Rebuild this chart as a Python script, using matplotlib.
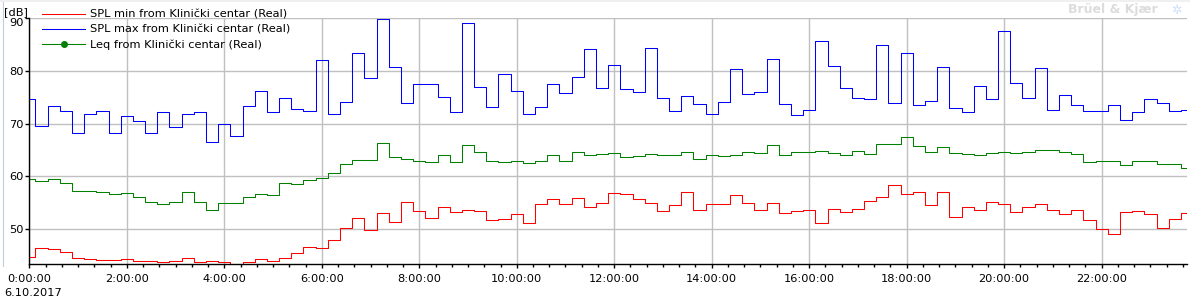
import numpy as np
import matplotlib.pyplot as plt
from matplotlib.lines import Line2D
from matplotlib.patches import Rectangle

# 15 min values, 6.10.2017, Klinički centar
spl_max = [74.6, 69.5, 73.3, 72.5, 68.2, 71.8, 72.4, 68.2, 71.4, 70.6, 68.2, 72.2, 69.4, 71.8, 72.3,
           66.6, 69.9, 67.6, 73.3, 76.3, 72.3, 74.8, 72.8, 72.5, 82.0, 71.8, 74.05, 83.5, 78.6, 89.8, 80.7,
           73.9, 77.5, 77.5, 75.0, 72.2, 89.2, 76.9, 73.1, 79.4, 76.2, 71.9, 73.1, 77.5, 75.8, 78.8, 84.1,
           76.7, 81.1, 76.5, 75.95, 84.3, 74.8, 72.5, 75.2, 73.7, 71.8, 74.05, 80.3, 75.6, 76.1, 82.2, 73.7, 71.6,
           72.7, 85.6, 80.9, 76.7, 74.8, 74.6, 84.9, 73.9, 83.4, 73.5, 74.4, 80.7, 72.9, 72.2, 77.1, 74.6, 87.6,
           77.7, 74.8, 80.5, 72.7, 75.4, 73.5, 72.5, 72.5, 73.5, 70.8, 72.3, 74.6, 73.9, 72.5, 72.7]

leq = [59.6, 59.05, 59.5, 58.7, 57.3, 57.3, 57.15, 56.6, 56.8, 56.2, 55.25, 54.75, 55.25, 57.0, 55.1,
       53.7, 54.9, 54.9, 56.1, 56.6, 56.4, 58.7, 58.5, 59.4, 59.8, 60.7, 62.3, 63.2, 63.2, 66.3, 63.6,
       63.4, 63.0, 62.7, 64.0, 62.7, 65.9, 64.6, 63.0, 62.7, 63.0, 62.5, 62.85, 64.0, 63.0, 64.6, 64.0,
       64.2, 64.4, 63.7, 63.8, 64.2, 64.0, 64.0, 64.6, 63.4, 64.0, 63.8, 64.0, 64.6, 64.4, 65.9, 64.0, 64.6,
       64.6, 64.75, 64.4, 64.0, 64.75, 64.2, 66.1, 66.1, 67.4, 65.7, 64.6, 65.5, 64.4, 64.2, 64.0, 64.4, 64.6,
       64.4, 64.6, 65.1, 65.1, 64.6, 64.2, 62.7, 62.85, 62.85, 62.1, 62.85, 62.85, 62.3, 62.3, 61.7]

spl_min = [44.8, 46.5, 46.3, 45.75, 44.5, 44.3, 44.1, 44.1, 44.3, 43.9, 43.9, 43.7, 43.9, 44.6, 43.7,
           43.9, 43.7, 43.2, 43.7, 44.4, 44.05, 44.6, 45.4, 46.7, 46.5, 47.9, 50.3, 52.2, 49.8, 53.0, 51.3,
           55.1, 53.4, 52.2, 54.3, 53.2, 53.7, 53.5, 51.8, 52.0, 52.8, 51.1, 54.7, 55.8, 54.7, 56.0, 54.3,
           54.9, 56.8, 56.6, 55.8, 54.9, 53.4, 54.5, 57.15, 53.7, 54.7, 54.7, 56.4, 54.9, 53.7, 54.9, 53.0, 53.4,
           53.7, 51.1, 53.9, 53.2, 53.9, 55.4, 56.2, 58.3, 56.6, 57.0, 54.5, 57.15, 52.4, 54.3, 53.7, 55.1, 54.7,
           53.2, 54.3, 54.7, 53.7, 52.8, 53.7, 51.8, 50.1, 49.0, 53.2, 53.4, 52.8, 50.3, 52.0, 53.0]

hours = np.arange(len(spl_max)) * 0.25
tick_hours = list(range(0, 24, 2))
tick_labels = ['%d:00:00' % h for h in tick_hours]
y_ticks = [50, 60, 70, 80, 90]

W, H = 1190, 300
fs = 8.2
plt.rcParams['font.family'] = ['DejaVu Sans']

fig = plt.figure(figsize=(W / 100, H / 100), dpi=100)

# thin window frame bits (top band, left edge)
fig.patches.append(Rectangle((0, 1 - 2 / H), 1, 2 / H, transform=fig.transFigure,
                             facecolor='#f0f0f0', edgecolor='none'))
fig.lines.append(Line2D([2.5 / W, 2.5 / W], [1 - 2 / H, 1 - 266 / H], transform=fig.transFigure,
                        color='#c4cad8', lw=0.8))

ax = fig.add_axes([29.3 / W, 1 - 264 / H, (1187 - 29.3) / W, (264 - 18.3) / H])

lw = 0.75
ax.step(hours, spl_min, where='mid', color='#ff0000', lw=lw)
ax.step(hours, spl_max, where='mid', color='#0000ff', lw=lw)
ax.step(hours, leq, where='mid', color='#008000', lw=lw)

ax.set_xlim(0, 23.75)
ax.set_ylim(43.4, 90)
ax.set_xticks(tick_hours)
ax.set_xticklabels(tick_labels, fontsize=fs)
ax.set_xticks(np.arange(0, 23.75, 1 / 3), minor=True)
ax.set_yticks(y_ticks)
ax.set_yticklabels([str(v) for v in y_ticks], fontsize=fs)
ax.yaxis.get_ticklabels()[-1].set_verticalalignment('top')

ax.grid(True, color='#c0c0c0', lw=1.0)
ax.set_axisbelow(True)
ax.tick_params(axis='x', which='major', length=3, width=1, pad=4)
ax.tick_params(axis='x', which='minor', length=2, width=1)
ax.tick_params(axis='y', length=3, width=1, pad=1)
for s in ['top', 'right']:
    ax.spines[s].set_visible(False)
for s in ['left', 'bottom']:
    ax.spines[s].set_linewidth(1.0)

fig.text(4 / W, 1 - 12 / H, '[dB]', fontsize=fs, va='center', ha='left')
fig.text(4 / W, 1 - 293 / H, '6.10.2017', fontsize=fs, va='center', ha='left')

handles = [Line2D([], [], color='#ff0000', lw=lw),
           Line2D([], [], color='#0000ff', lw=lw),
           Line2D([], [], color='#008000', lw=lw, marker='o', markersize=4,
                  markevery=[0], markerfacecolor='#008000')]
names = ['SPL min from Klinički centar (Real)',
         'SPL max from Klinički centar (Real)',
         'Leq from Klinički centar (Real)']
fig.legend(handles, names, loc='upper left', bbox_to_anchor=(34 / W, 1 - 2 / H),
           frameon=False, fontsize=fs, handlelength=3.8, handletextpad=0.45,
           labelspacing=0.4, borderpad=0.2)

fig.text(1158 / W, 1 - 10 / H, 'Brüel & Kjær', fontsize=9, fontweight='bold',
         color='#dcdcdc', ha='right', va='center')
fig.text(1176 / W, 1 - 10 / H, '✲', fontsize=9, color='#cfe0f8', ha='center', va='center')

fig.savefig('out.png', dpi=100)
